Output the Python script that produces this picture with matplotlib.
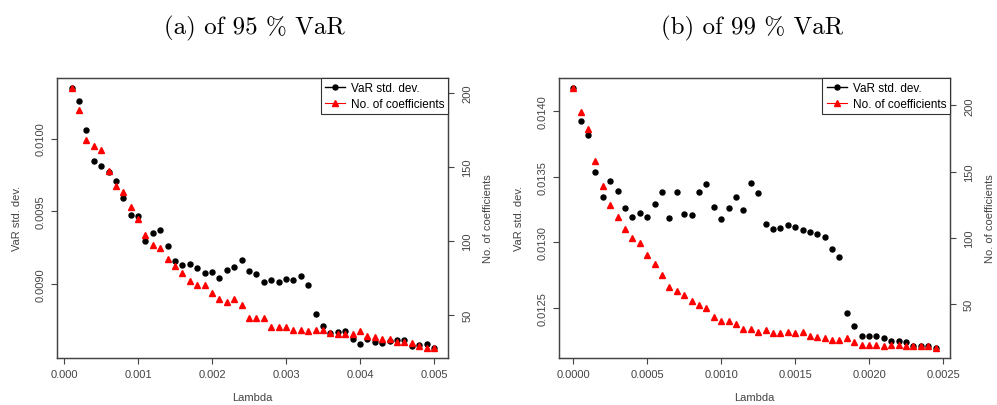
import matplotlib
matplotlib.use("Agg")
import matplotlib.pyplot as plt
import numpy as np

# ---- data ----
lam_a = np.round(np.arange(1, 51) * 0.0001, 5)
var_sd_a = [0.010346, 0.010261, 0.010062, 0.009846, 0.009810, 0.009773, 0.009709, 0.009592,
            0.009475, 0.009470, 0.009294, 0.009353, 0.009369, 0.009259, 0.009158, 0.009131,
            0.009138, 0.009108, 0.009073, 0.009083, 0.009039, 0.009094, 0.009119, 0.009165,
            0.009087, 0.009069, 0.009014, 0.009030, 0.009014, 0.009034, 0.009030, 0.009053,
            0.008995, 0.008794, 0.008713, 0.008663, 0.008667, 0.008674, 0.008624, 0.008585,
            0.008619, 0.008599, 0.008594, 0.008610, 0.008612, 0.008612, 0.008576, 0.008578,
            0.008585, 0.008562]
ncoef_a = [203, 188, 168, 164, 161, 147, 137, 133, 123, 115, 104, 97, 95, 88, 83, 78, 73, 70,
           70, 65, 61, 59, 61, 57, 48, 48, 48, 42, 42, 42, 40, 40, 39, 40, 40, 38, 37, 37, 37,
           39, 36, 35, 34, 34, 32, 32, 31, 29, 28, 28]

lam_b = np.round(np.arange(0, 50) * 0.00005, 6)
var_sd_b = [0.014176, 0.013926, 0.013819, 0.013539, 0.013343, 0.013468, 0.013389, 0.013261,
            0.013193, 0.013221, 0.013193, 0.013292, 0.013381, 0.013182, 0.013381, 0.013215,
            0.013210, 0.013386, 0.013442, 0.013272, 0.013177, 0.013264, 0.013348, 0.013244,
            0.013452, 0.013376, 0.013139, 0.013098, 0.013111, 0.013131, 0.013116, 0.013093,
            0.013078, 0.013065, 0.013040, 0.012951, 0.012889, 0.012462, 0.012357, 0.012283,
            0.012283, 0.012283, 0.012265, 0.012245, 0.012245, 0.012235, 0.012207, 0.012207,
            0.012207, 0.012194]
ncoef_b = [213, 195, 182, 158, 139, 125, 116, 107, 100, 96, 87, 80, 72, 63, 60, 57, 52, 49, 47,
           40, 37, 37, 35, 31, 31, 29, 30, 28, 28, 29, 28, 29, 26, 25, 24, 23, 23, 24, 21, 19,
           19, 19, 18, 19, 19, 18, 18, 18, 18, 17]

titles = ["(a) of 95 % VaR", "(b) of 99 % VaR"]
xticks_a = [0.000, 0.001, 0.002, 0.003, 0.004, 0.005]
xticks_b = [0.0000, 0.0005, 0.0010, 0.0015, 0.0020, 0.0025]
yticks_a = [0.0090, 0.0095, 0.0100]
yticks_b = [0.0125, 0.0130, 0.0135, 0.0140]
y2ticks_a = [50, 100, 150, 200]
y2ticks_b = [50, 100, 150, 200]

txt = "#444444"
plt.rcParams["font.family"] = ["Liberation Sans", "DejaVu Sans"]

fig = plt.figure(figsize=(9.97, 4.06), dpi=100)

panels = [
    (0.0572, lam_a, var_sd_a, ncoef_a, xticks_a, "%.3f", yticks_a, y2ticks_a, 0.2555),
    (0.5604, lam_b, var_sd_b, ncoef_b, xticks_b, "%.4f", yticks_b, y2ticks_b, 0.7545),
]

for i, (left, lam, sd, nc, xt, xfmt, yt, y2t, tx) in enumerate(panels):
    ax = fig.add_axes([left, 0.1158, 0.3926, 0.690])
    ax.plot(lam, sd, "o", color="black", markersize=3.6, zorder=3)
    ax.margins(x=0.04, y=0.04)
    ax.set_xticks(xt)
    ax.set_xticklabels([xfmt % v for v in xt])
    ax.set_yticks(yt)
    ax.set_yticklabels(["%.4f" % v for v in yt], rotation=90, va="center")
    ax.set_xlabel("Lambda", fontsize=8, color=txt, labelpad=9)
    ax.set_ylabel("VaR std. dev.", fontsize=8, color=txt, labelpad=10)
    ax.tick_params(direction="out", length=4, width=0.8, labelsize=8,
                   colors=txt, pad=4)
    for s in ax.spines.values():
        s.set_color("#444444")
        s.set_linewidth(0.9)

    ax2 = ax.twinx()
    ax2.plot(lam, nc, "^", color="red", markersize=4.0, zorder=4)
    ax2.margins(y=0.04)
    ax2.set_yticks(y2t)
    ax2.set_yticklabels([str(v) for v in y2t], rotation=90, va="center")
    ax2.set_ylabel("No. of coefficients", fontsize=8, color=txt, labelpad=8)
    ax2.tick_params(direction="out", length=4, width=0.8, labelsize=8,
                    colors=txt, pad=6)
    for s in ax2.spines.values():
        s.set_color("#444444")
        s.set_linewidth(0.9)

    h1, = ax2.plot([], [], "o-", color="black", markersize=3.6, lw=1.0)
    h2, = ax2.plot([], [], "^-", color="red", markersize=4.0, lw=0.8)
    leg = ax2.legend([h1, h2], ["VaR std. dev.", "No. of coefficients"],
                     loc="upper right", fontsize=8.5, fancybox=False,
                     borderaxespad=0, handlelength=1.7, handletextpad=0.5,
                     borderpad=0.35, labelspacing=0.35, framealpha=1)
    leg.get_frame().set_edgecolor("#333333")
    leg.get_frame().set_linewidth(0.8)

    fig.text(tx, 0.931, titles[i], ha="center", va="center",
             fontsize=18, family="cmr10")

fig.savefig("out.png", dpi=100)
